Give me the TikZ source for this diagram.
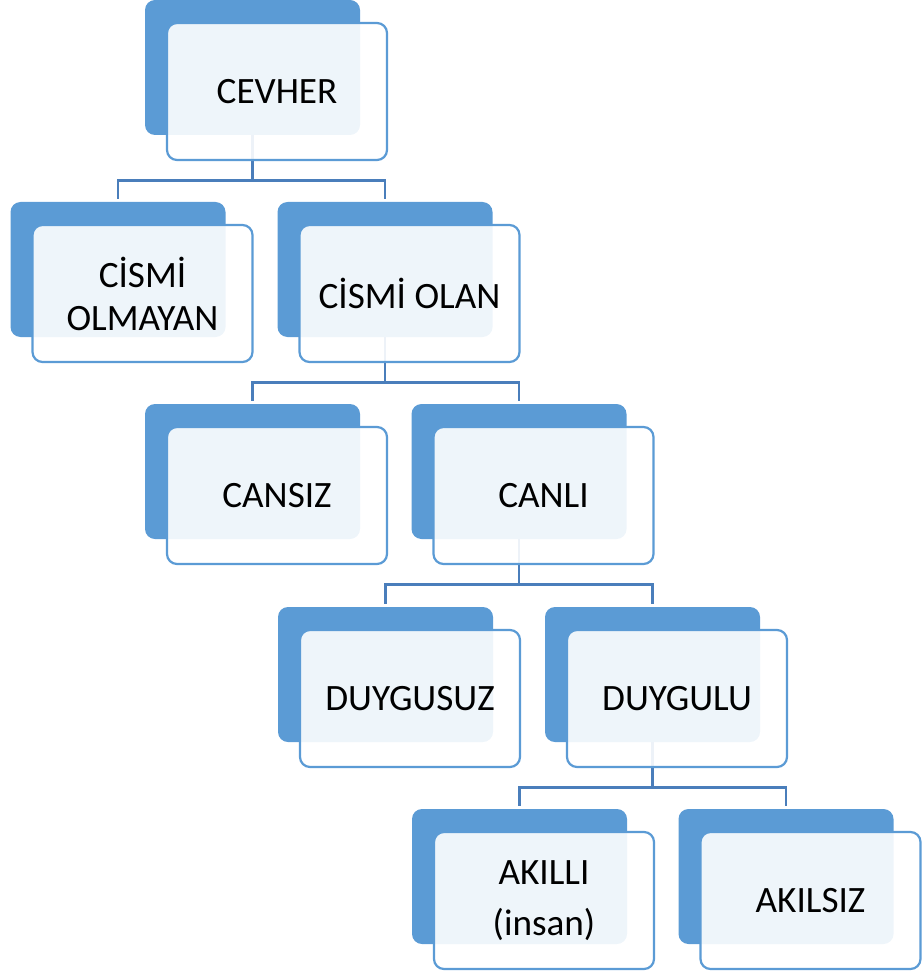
\documentclass[tikz,border=0pt]{standalone}
\usepackage{fontspec}
\setmainfont{Carlito}
\usepackage{tikz}
\usetikzlibrary{calc}
\definecolor{brand}{HTML}{5B9BD5}
\definecolor{brandDeep}{HTML}{4A7EBB}

\begin{document}
\begin{tikzpicture}[
  x=0.5pt, y=-0.5pt,
  every node/.style={font=\fontsize{18.6}{21.5}\selectfont},
  back/.style ={rectangle, rounded corners=5pt, fill=brand, draw=none,
                minimum width=107.5pt, minimum height=67.5pt},
  front/.style={rectangle, rounded corners=5pt, fill=white, fill opacity=0.9, text opacity=1,
                draw=brand, line width=1.1pt, align=center, inner sep=2pt,
                minimum width=110pt, minimum height=68.5pt},
  link/.style ={draw=brandDeep, line width=1.2pt, shorten >=1.5pt},
]

% ── Row y-coordinates (centres of the back boxes) ──
\def\yA{67.5}
\def\yB{269.5}
\def\yC{471.5}
\def\yD{674.5}
\def\yE{876.5}
\def\bus{45}

\useasboundingbox (0,0) rectangle (924,973);

% ── Back boxes ──
\node[back] (cevB)   at (252.5, \yA) {};
\node[back] (nocB)   at (118,   \yB) {};
\node[back] (cisB)   at (385,   \yB) {};
\node[back] (cnszB)  at (252.5, \yC) {};
\node[back] (cnlB)   at (519,   \yC) {};
\node[back] (dsuzB)  at (385.5, \yD) {};
\node[back] (dluB)   at (652.5, \yD) {};
\node[back] (aklB)   at (519.5, \yE) {};
\node[back] (aksB)   at (786,   \yE) {};

% ── Connectors (under the front boxes) ──
\foreach \src/\dst in {cevB/nocB, cevB/cisB, cisB/cnszB, cisB/cnlB,
                       cnlB/dsuzB, cnlB/dluB, dluB/aklB, dluB/aksB} {
  \draw[link] (\src.south) -- ++(0,\bus) -| (\dst.north);
}

% ── Front boxes with the labels ──
\node[front] (cev)  at ($(cevB)+(24.5,24)$)  {CEVHER};
\node[front] (noc)  at ($(nocB)+(24.5,24)$)  {CİSMİ\\OLMAYAN};
\node[front] (cis)  at ($(cisB)+(24.5,24)$)  {CİSMİ OLAN};
\node[front] (cnsz) at ($(cnszB)+(24.5,24)$) {CANSIZ};
\node[front] (cnl)  at ($(cnlB)+(24.5,24)$)  {CANLI};
\node[front] (dsuz) at ($(dsuzB)+(24.5,24)$) {DUYGUSUZ};
\node[front] (dlu)  at ($(dluB)+(24.5,24)$)  {DUYGULU};
\node[front] (akl)  at ($(aklB)+(24.5,24)$)  {AKILLI\\[4pt](insan)};
\node[front] (aks)  at ($(aksB)+(24.5,24)$)  {AKILSIZ};

\end{tikzpicture}
\end{document}
